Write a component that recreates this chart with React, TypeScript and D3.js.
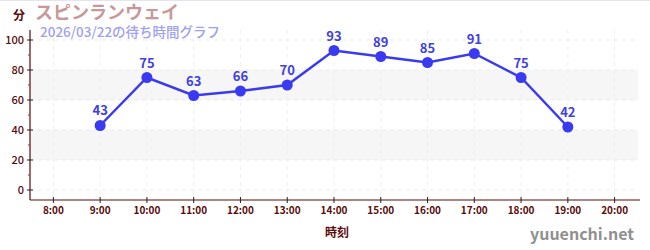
import React from "react";
import * as d3 from "d3";

const hours = [8, 9, 10, 11, 12, 13, 14, 15, 16, 17, 18, 19, 20];
const dataHours = [9, 10, 11, 12, 13, 14, 15, 16, 17, 18, 19];
const waits = [43, 75, 63, 66, 70, 93, 89, 85, 91, 75, 42];
const yTicks = [0, 20, 40, 60, 80, 100];
const yMinor = [10, 30, 50, 70, 90];
const bands = [[20, 40], [60, 80]];

const W = 650, H = 250;
const L = 30, R = 638, T = 30, B = 200;

export default function App() {
  const x = d3.scaleLinear().domain([7.5, 20.5]).range([L, R]);
  const y = d3.scaleLinear().domain([-6.67, 106.67]).range([B, T]);
  const pts = dataHours.map((h, i) => [x(h), y(waits[i])] as [number, number]);
  const line = d3.line()(pts) || "";
  const font = "'Noto Sans CJK JP', 'Noto Sans', sans-serif";
  const axisCol = "#5a0a0a";
  const blue = "#3a3af0";
  return (
    <svg width={W} height={H} style={{ position: "absolute", left: 0, top: 0, fontFamily: font }}>
      <rect x={0} y={0} width={W} height={H} fill="#fff" />
      <line x1={0} x2={W} y1={0.5} y2={0.5} stroke="#e4e4f4" />
      {bands.map(([a, b], i) => (
        <rect key={i} x={L} y={y(b)} width={R - L} height={y(a) - y(b)} fill="#f6f6f6" />
      ))}
      {yTicks.map((t) => (
        <line key={t} x1={L} x2={R} y1={y(t)} y2={y(t)} stroke="#ebebeb" strokeDasharray="4,4" />
      ))}
      {hours.map((h) => (
        <line key={h} x1={x(h)} x2={x(h)} y1={T} y2={B} stroke="#f0f0f0" strokeDasharray="4,4" />
      ))}
      <line x1={L} x2={L} y1={T} y2={B} stroke={axisCol} strokeWidth={1.2} />
      <line x1={L} x2={R + 2} y1={B} y2={B} stroke={axisCol} strokeWidth={1.2} />
      {yTicks.map((t) => (
        <g key={t}>
          <line x1={L - 3} x2={L + 3} y1={y(t)} y2={y(t)} stroke="#222" />
          <text x={L - 6} y={y(t) + 4} textAnchor="end" fontSize={11} fill={axisCol} fontWeight={500}>{t}</text>
        </g>
      ))}
      {yMinor.map((t) => (
        <line key={t} x1={L - 2} x2={L} y1={y(t)} y2={y(t)} stroke="#d02020" />
      ))}
      {hours.map((h) => (
        <g key={h}>
          <line x1={x(h)} x2={x(h)} y1={B - 3} y2={B + 3} stroke="#222" />
          <text x={x(h)} y={B + 14} textAnchor="middle" fontSize={10} fill={axisCol} fontWeight={700}>{h}:00</text>
        </g>
      ))}
      <path d={line} fill="none" stroke={blue} strokeWidth={2.5} />
      {pts.map((p, i) => (
        <g key={i}>
          <circle cx={p[0]} cy={p[1]} r={5.5} fill={blue} />
          <text x={p[0]} y={p[1] - 10} textAnchor="middle" fontSize={13} fontWeight={700} fill="#4040e0">{waits[i]}</text>
        </g>
      ))}
      <text x={13} y={20} fontSize={12} fontWeight={700} fill={axisCol}>分</text>
      <text x={35} y={19} fontSize={18} fontWeight={700} fill="#c89898">スピンランウェイ</text>
      <text x={40} y={37} fontSize={13.5} fontWeight={500} fill="#a0a0f0">2026/03/22の待ち時間グラフ</text>
      <text x={337} y={237} textAnchor="middle" fontSize={12} fontWeight={700} fill={axisCol}>時刻</text>
      <text x={634} y={240} textAnchor="end" fontSize={16} fontWeight={700} fill="#909090">yuuenchi.net</text>
    </svg>
  );
}
